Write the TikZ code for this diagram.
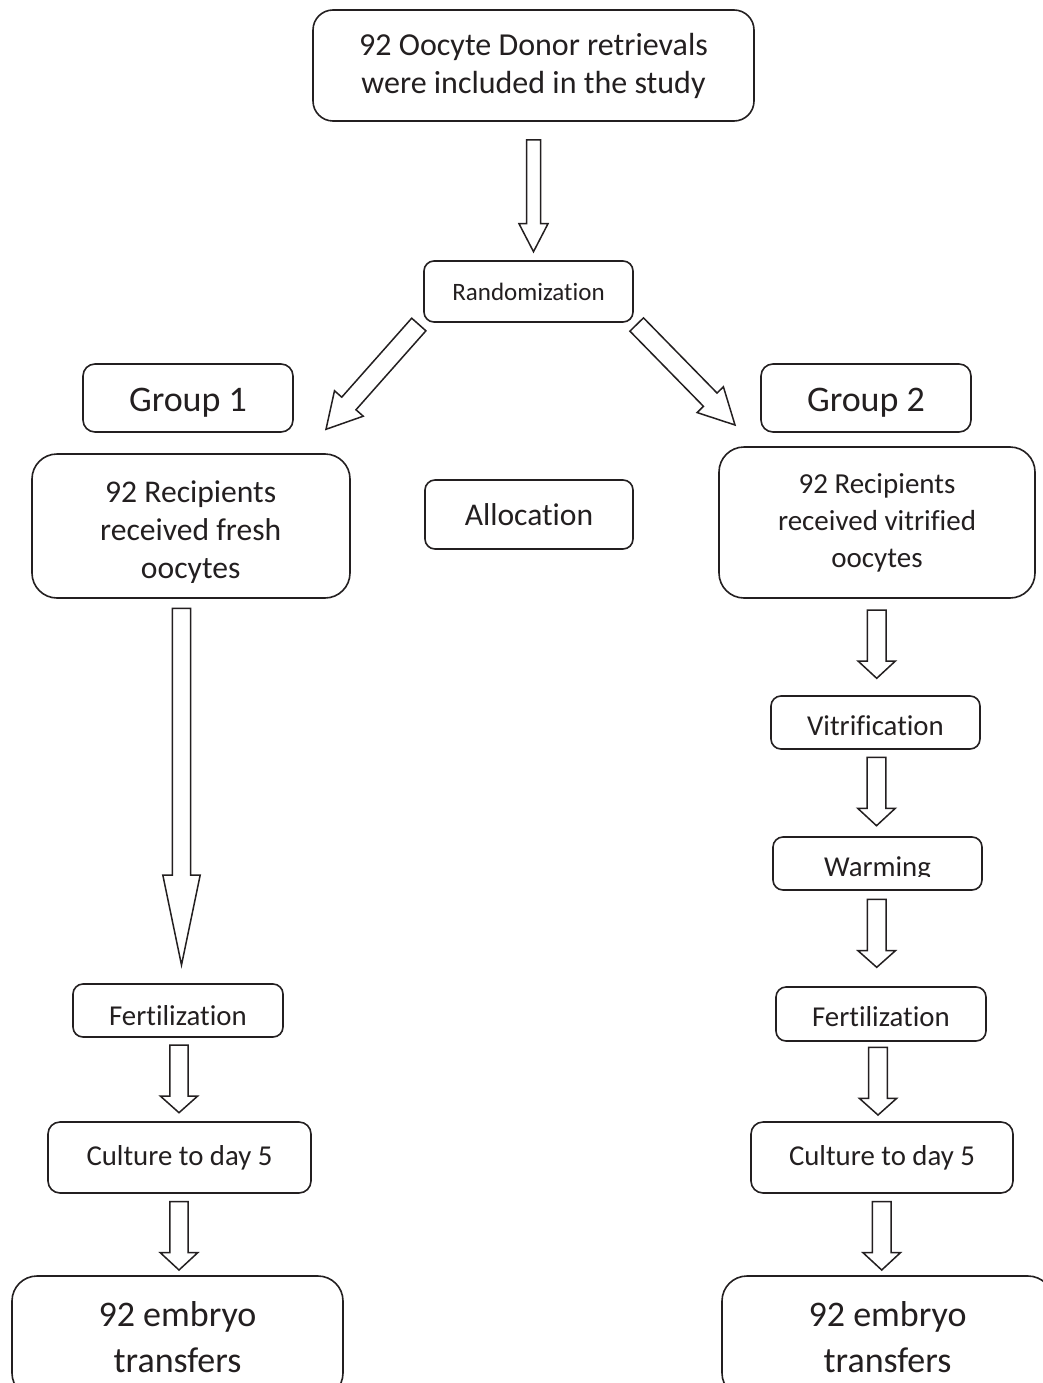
\documentclass[tikz,border=0pt]{standalone}
\usepackage{fontspec}
\setmainfont{Carlito}[Ligatures={NoCommon}, RawFeature={-liga;-clig;-dlig;-calt}]
\usetikzlibrary{calc}
\definecolor{ink}{HTML}{231F20}
\tikzset{
  box/.style={draw=ink, line width=1.6pt, rounded corners=#1, inner sep=0pt, align=center, text=ink},
  box/.default=10pt,
  txt/.style={inner sep=0pt, align=center, text=ink},
  blk/.style={draw=ink, line width=1.5pt, fill=white, line join=miter},
}
% start, tip, half shaft width, half head width, head length
\newcommand\blockarrow[5]{%
  \coordinate (bah) at ($(#2)!#5!(#1)$);
  \draw[blk] ($(#1)!#3!90:(#2)$) -- ($(bah)!#3!90:(#2)$) -- ($(bah)!#4!90:(#2)$) -- (#2)
    -- ($(bah)!#4!-90:(#2)$) -- ($(bah)!#3!-90:(#2)$) -- ($(#1)!#3!-90:(#2)$) -- cycle;}
\begin{document}
\begin{tikzpicture}[x=1pt,y=-1pt]
\useasboundingbox (0,0) rectangle (1043,1383);
\clip (0,0) rectangle (1043,1383);
\fill[white] (0,0) rectangle (1043,1383);

% boxes
\node[box=20pt, minimum width=441pt, minimum height=111pt, font=\fontsize{32}{38}\selectfont] (top) at (533.5,65.5)
  {92 Oocyte Donor retrievals\\were included in the study};
\node[box=10pt, minimum width=209pt, minimum height=61pt, font=\fontsize{25}{30}\selectfont] (rand) at (528.5,291.5) {Randomization};
\node[box=12pt, minimum width=210pt, minimum height=68pt, font=\fontsize{36}{44}\selectfont, text height=27.4pt, text depth=0pt] (g1) at (188,398) {Group 1};
\node[box=12pt, minimum width=210pt, minimum height=68pt, font=\fontsize{36}{44}\selectfont, text height=27.4pt, text depth=0pt] (g2) at (866,398) {Group 2};
\node[box=25pt, minimum width=318pt, minimum height=144pt] (rec1) at (191,526) {};
\begin{scope}
  \clip (28,450) rectangle (354,582.5);
  \node[txt, font=\fontsize{31.6}{38}\selectfont] (rec1t) at (190.7,532) {92 Recipients\\received fresh\\oocytes};
\end{scope}
\node[box=25pt, minimum width=316pt, minimum height=151pt, font=\fontsize{29}{37}\selectfont] (rec2) at (877,522.5)
  {92 Recipients\\received vitrified\\oocytes};
\node[box=10pt, minimum width=208pt, minimum height=69pt, font=\fontsize{31.6}{38}\selectfont] (alloc) at (529,514.5) {Allocation};

\node[box=10pt, minimum width=209pt, minimum height=53pt, font=\fontsize{28.8}{34}\selectfont, text height=25pt, text depth=0pt] (vit) at (875.5,722.5) {Vitrification};
\node[box=10pt, minimum width=209pt, minimum height=53pt] (warm) at (877.5,863.5) {};
\begin{scope}
  \clip (770,830) rectangle (985,876.5);
  \node[txt, font=\fontsize{28.8}{34}\selectfont, anchor=base] (warmt) at (877.5,876) {Warming};
\end{scope}
\node[box=10pt, minimum width=210pt, minimum height=54pt, font=\fontsize{28.8}{34}\selectfont, text height=25.4pt, text depth=0pt] (fertR) at (881,1014) {Fertilization};
\node[box=12pt, minimum width=262pt, minimum height=71pt, font=\fontsize{28.8}{34}\selectfont] (cultR) at (882,1157.5) {Culture to day 5};
\node[box=25pt, minimum width=331pt, minimum height=122pt, font=\fontsize{36}{46}\selectfont] (embR) at (887.5,1337) {92 embryo\\transfers};

\node[box=10pt, minimum width=210pt, minimum height=53pt, font=\fontsize{28.8}{34}\selectfont, text height=29pt, text depth=0pt] (fertL) at (178,1010.5) {Fertilization};
\node[box=12pt, minimum width=263pt, minimum height=71pt, font=\fontsize{28.8}{34}\selectfont] (cultL) at (179.5,1157.5) {Culture to day 5};
\node[box=25pt, minimum width=331pt, minimum height=122pt, font=\fontsize{36}{46}\selectfont] (embL) at (177.5,1337) {92 embryo\\transfers};

% arrow end points
\coordinate (a0s) at (533.5,140);   \coordinate (a0e) at (533.5,251.7);
\coordinate (aLs) at (418.8,324.5); \coordinate (aLe) at (326,429.3);
\coordinate (aRs) at (636.7,324.5); \coordinate (aRe) at (735,425);
\coordinate (l1s) at (181.5,608.3); \coordinate (l1e) at (181.5,965);
\coordinate (l2s) at (179,1045);    \coordinate (l2e) at (179,1112.7);
\coordinate (l3s) at (179,1201.7);  \coordinate (l3e) at (179,1270);
\coordinate (r1s) at (876.7,610);   \coordinate (r1e) at (876.7,678.3);
\coordinate (r2s) at (876.5,757.3); \coordinate (r2e) at (876.5,825.7);
\coordinate (r3s) at (876.7,899.3); \coordinate (r3e) at (876.7,967.3);
\coordinate (r4s) at (878,1047.3);  \coordinate (r4e) at (878,1115);
\coordinate (r5s) at (881.7,1201.7);\coordinate (r5e) at (881.7,1270);

\blockarrow{a0s}{a0e}{7pt}{14.5pt}{28pt}
\blockarrow{aLs}{aLe}{9.5pt}{19.2pt}{34.5pt}
\blockarrow{aRs}{aRe}{9.5pt}{18.4pt}{35.4pt}
\blockarrow{l1s}{l1e}{9.2pt}{18.7pt}{90pt}
\blockarrow{l2s}{l2e}{9.2pt}{18.7pt}{16.7pt}
\blockarrow{l3s}{l3e}{9.2pt}{18.7pt}{17.3pt}
\blockarrow{r1s}{r1e}{9.3pt}{18.7pt}{17.3pt}
\blockarrow{r2s}{r2e}{9.3pt}{18.7pt}{17.3pt}
\blockarrow{r3s}{r3e}{9.3pt}{18.7pt}{16.6pt}
\blockarrow{r4s}{r4e}{9.3pt}{18.7pt}{16.7pt}
\blockarrow{r5s}{r5e}{9.3pt}{18.7pt}{17.3pt}
\end{tikzpicture}
\end{document}
